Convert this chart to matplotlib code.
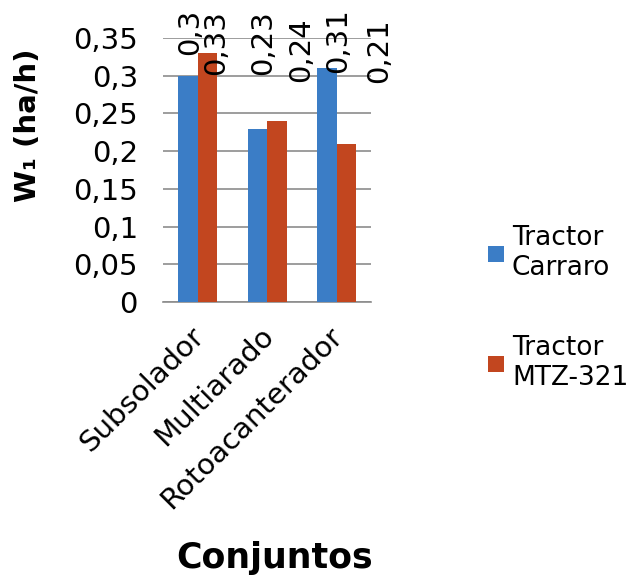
import matplotlib
matplotlib.use("Agg")
import numpy as np
import matplotlib.pyplot as plt
import matplotlib.transforms as mtransforms
from matplotlib.ticker import FuncFormatter

categories = ["Subsolador", "Multiarado", "Rotoacanterador"]
series_names = ["Tractor\nCarraro", "Tractor\nMTZ-321"]
carraro = [0.30, 0.23, 0.31]
mtz = [0.33, 0.24, 0.21]
yticks = [0, 0.05, 0.1, 0.15, 0.2, 0.25, 0.3, 0.35]

BLUE = "#3B7DC6"
ORANGE = "#C2461F"
GRID = "#8C8C8C"
FS = 21

plt.rcParams["font.family"] = ["DejaVu Sans"]

fig = plt.figure(figsize=(6.39, 5.76), dpi=100)
ax = fig.add_axes([0.255, 0.4757, 0.326, 0.4583])

x = np.arange(len(categories))
w = 0.28
b1 = ax.bar(x - w / 2, carraro, w, color=BLUE, label=series_names[0], zorder=3)
b2 = ax.bar(x + w / 2, mtz, w, color=ORANGE, label=series_names[1], zorder=3)

ax.set_xlim(-0.5, 2.5)
ax.set_ylim(0, 0.35)
ax.set_yticks(yticks)
ax.yaxis.set_major_formatter(FuncFormatter(lambda v, p: f"{v:g}".replace(".", ",")))
ax.grid(axis="y", color=GRID, linewidth=1.2, zorder=0)
ax.set_axisbelow(True)
for s in ["left", "right", "top"]:
    ax.spines[s].set_visible(False)
ax.spines["bottom"].set_color(GRID)
ax.spines["bottom"].set_linewidth(1.2)
ax.tick_params(axis="y", length=0, labelsize=FS, pad=18)
ax.tick_params(axis="x", length=0, labelsize=FS, pad=5)

ax.set_xticks(x)
ax.set_xticklabels(categories, rotation=45, ha="right", va="top",
                   rotation_mode="anchor", fontsize=FS)
# nudge the slanted category names down and to the left
shift = mtransforms.ScaledTranslation(-0.08, -0.13, fig.dpi_scale_trans)
for lbl in ax.get_xticklabels():
    lbl.set_transform(lbl.get_transform() + shift)

# value labels, rotated and pushed up to the top of the plot area
label_dx = [(-0.11, 0.26), (-0.06, 0.49), (0.025, 0.615)]
label_y = [(0.327, 0.301), (0.301, 0.292), (0.304, 0.290)]
for i in range(len(categories)):
    for j, vals in enumerate([carraro, mtz]):
        ax.text(x[i] + label_dx[i][j], label_y[i][j],
                f"{vals[i]:g}".replace(".", ","),
                rotation=90, ha="center", va="bottom", fontsize=FS,
                clip_on=False, zorder=4)

fig.text(0.044, 0.783, "W₁ (ha/h)", rotation=90, ha="center", va="center",
         fontsize=21, fontweight="bold")
fig.text(0.43, 0.031, "Conjuntos", ha="center", va="center",
         fontsize=25, fontweight="bold")

fig.legend(handles=[b1, b2], loc="upper left",
           bbox_to_anchor=(0.764, 0.609), frameon=False, fontsize=19,
           handlelength=0.6, handleheight=0.6, handletextpad=0.3,
           labelspacing=2.05, borderaxespad=0, borderpad=0)

fig.savefig("out.png", dpi=100)
